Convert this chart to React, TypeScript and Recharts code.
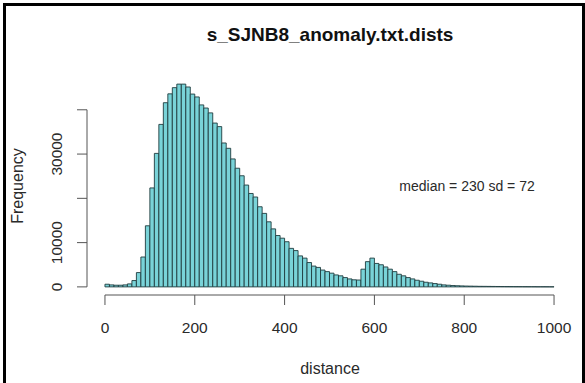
import React from 'react';
import { BarChart, Bar, XAxis, YAxis, ReferenceLine } from 'recharts';

const binWidth = 10;
// frequency of each 10-unit distance bin, 0..1000
const counts = [
  600, 450, 380, 380, 450, 680, 1430, 3230, 6750, 13800,
  22350, 30150, 36700, 41600, 43600, 45000, 45800, 45800, 45150, 43550,
  42900, 41100, 40400, 39300, 37000, 36200, 32500, 31300, 28900, 26800,
  25100, 23000, 21100, 20300, 18100, 16600, 14700, 13100, 11600, 11000,
  10200, 8700, 8200, 7000, 6500, 5500, 4700, 4400, 3800, 3450,
  3100, 2700, 2500, 2100, 1800, 1600, 1550, 4000, 5700, 6500,
  5300, 5000, 4500, 4000, 3450, 2850, 2500, 2100, 1800, 1500,
  1280, 1050, 900, 750, 600, 450, 380, 300, 260, 220,
  190, 170, 150, 130, 120, 110, 100, 90, 80, 70,
  60, 55, 50, 45, 40, 35, 30, 30, 25, 20,
];
const xTicks = [0, 200, 400, 600, 800, 1000];
const yTicks = [0, 10000, 20000, 30000, 40000];
const yTickLabels: Record<number, string> = { 0: '0', 10000: '10000', 30000: '30000' };
const title = 's_SJNB8_anomaly.txt.dists';
const xLabel = 'distance';
const yLabel = 'Frequency';
const annotation = 'median = 230 sd = 72';

const data = counts.map((c, i) => ({ mid: i * binWidth + binWidth / 2, count: c }));
const maxCount = Math.max(...counts);
const xMin = xTicks[0];
const xMax = xTicks[xTicks.length - 1];
const xDomain: [number, number] = [xMin - 0.04 * (xMax - xMin), xMax + 0.04 * (xMax - xMin)];
const yDomain: [number, number] = [-0.04 * maxCount, 1.04 * maxCount];

const FONT = '"Liberation Sans", Arial, Helvetica, sans-serif';
const TEXT = '#2a2a2a';
const AXIS = '#555';

const XTick = (props: any) => {
  const { x, y, payload } = props;
  return (
    <text x={x} y={y + 26} textAnchor="middle" fontSize={15.5} fill={TEXT} fontFamily={FONT}>
      {payload.value}
    </text>
  );
};

const YTick = (props: any) => {
  const { x, y, payload } = props;
  const label = yTickLabels[payload.value] ?? '';
  if (!label) return <g />;
  return (
    <g transform={`translate(${x - 19},${y}) rotate(-90)`}>
      <text x={0} y={0} dy="0.36em" textAnchor="middle" fontSize={15.5} fill={TEXT} fontFamily={FONT}>
        {label}
      </text>
    </g>
  );
};

export default function App() {
  return (
    <div style={{ position: 'fixed', left: 0, top: 0, width: 585, height: 383, background: '#fff' }}>
      <div
        style={{
          position: 'absolute', left: 3, top: 3, width: 582, height: 380, boxSizing: 'border-box',
          borderTop: '3px solid #000', borderLeft: '3px solid #000', borderRight: '3px solid #000',
        }}
      />
      <BarChart
        width={585}
        height={383}
        data={data}
        margin={{ top: 76, right: 13, bottom: 58, left: 0 }}
        barCategoryGap={0}
        barGap={0}
      >
        <XAxis
          dataKey="mid"
          type="number"
          domain={xDomain}
          ticks={xTicks}
          interval={0}
          axisLine={false}
          tickLine={{ stroke: AXIS, strokeWidth: 1 }}
          tickSize={10}
          tick={<XTick />}
          height={30}
        />
        <YAxis
          type="number"
          domain={yDomain}
          ticks={yTicks}
          interval={0}
          axisLine={false}
          tickLine={{ stroke: AXIS, strokeWidth: 1 }}
          tickSize={10}
          tick={<YTick />}
          width={87}
        />
        <Bar
          dataKey="count"
          fill="#79d3d8"
          stroke="#1f3c3e"
          strokeWidth={0.9}
          barSize={4.49}
          isAnimationActive={false}
        />
        <ReferenceLine
          segment={[{ x: xMin, y: yDomain[0] }, { x: xMax, y: yDomain[0] }]}
          stroke={AXIS}
          strokeWidth={1}
          ifOverflow="visible"
        />
        <ReferenceLine
          segment={[{ x: xDomain[0], y: yTicks[0] }, { x: xDomain[0], y: yTicks[yTicks.length - 1] }]}
          stroke={AXIS}
          strokeWidth={1}
          ifOverflow="visible"
        />
        <text x={330} y={40.5} textAnchor="middle" fontSize={19} fontWeight="bold" fill="#111" fontFamily={FONT}>
          {title}
        </text>
        <text x={330} y={374} textAnchor="middle" fontSize={16} fill={TEXT} fontFamily={FONT}>
          {xLabel}
        </text>
        <g transform="translate(17,186) rotate(-90)">
          <text x={0} y={0} dy="0.36em" textAnchor="middle" fontSize={16} fill={TEXT} fontFamily={FONT}>
            {yLabel}
          </text>
        </g>
        <text x={467} y={191} textAnchor="middle" fontSize={14} fill={TEXT} fontFamily={FONT}>
          {annotation}
        </text>
      </BarChart>
    </div>
  );
}
